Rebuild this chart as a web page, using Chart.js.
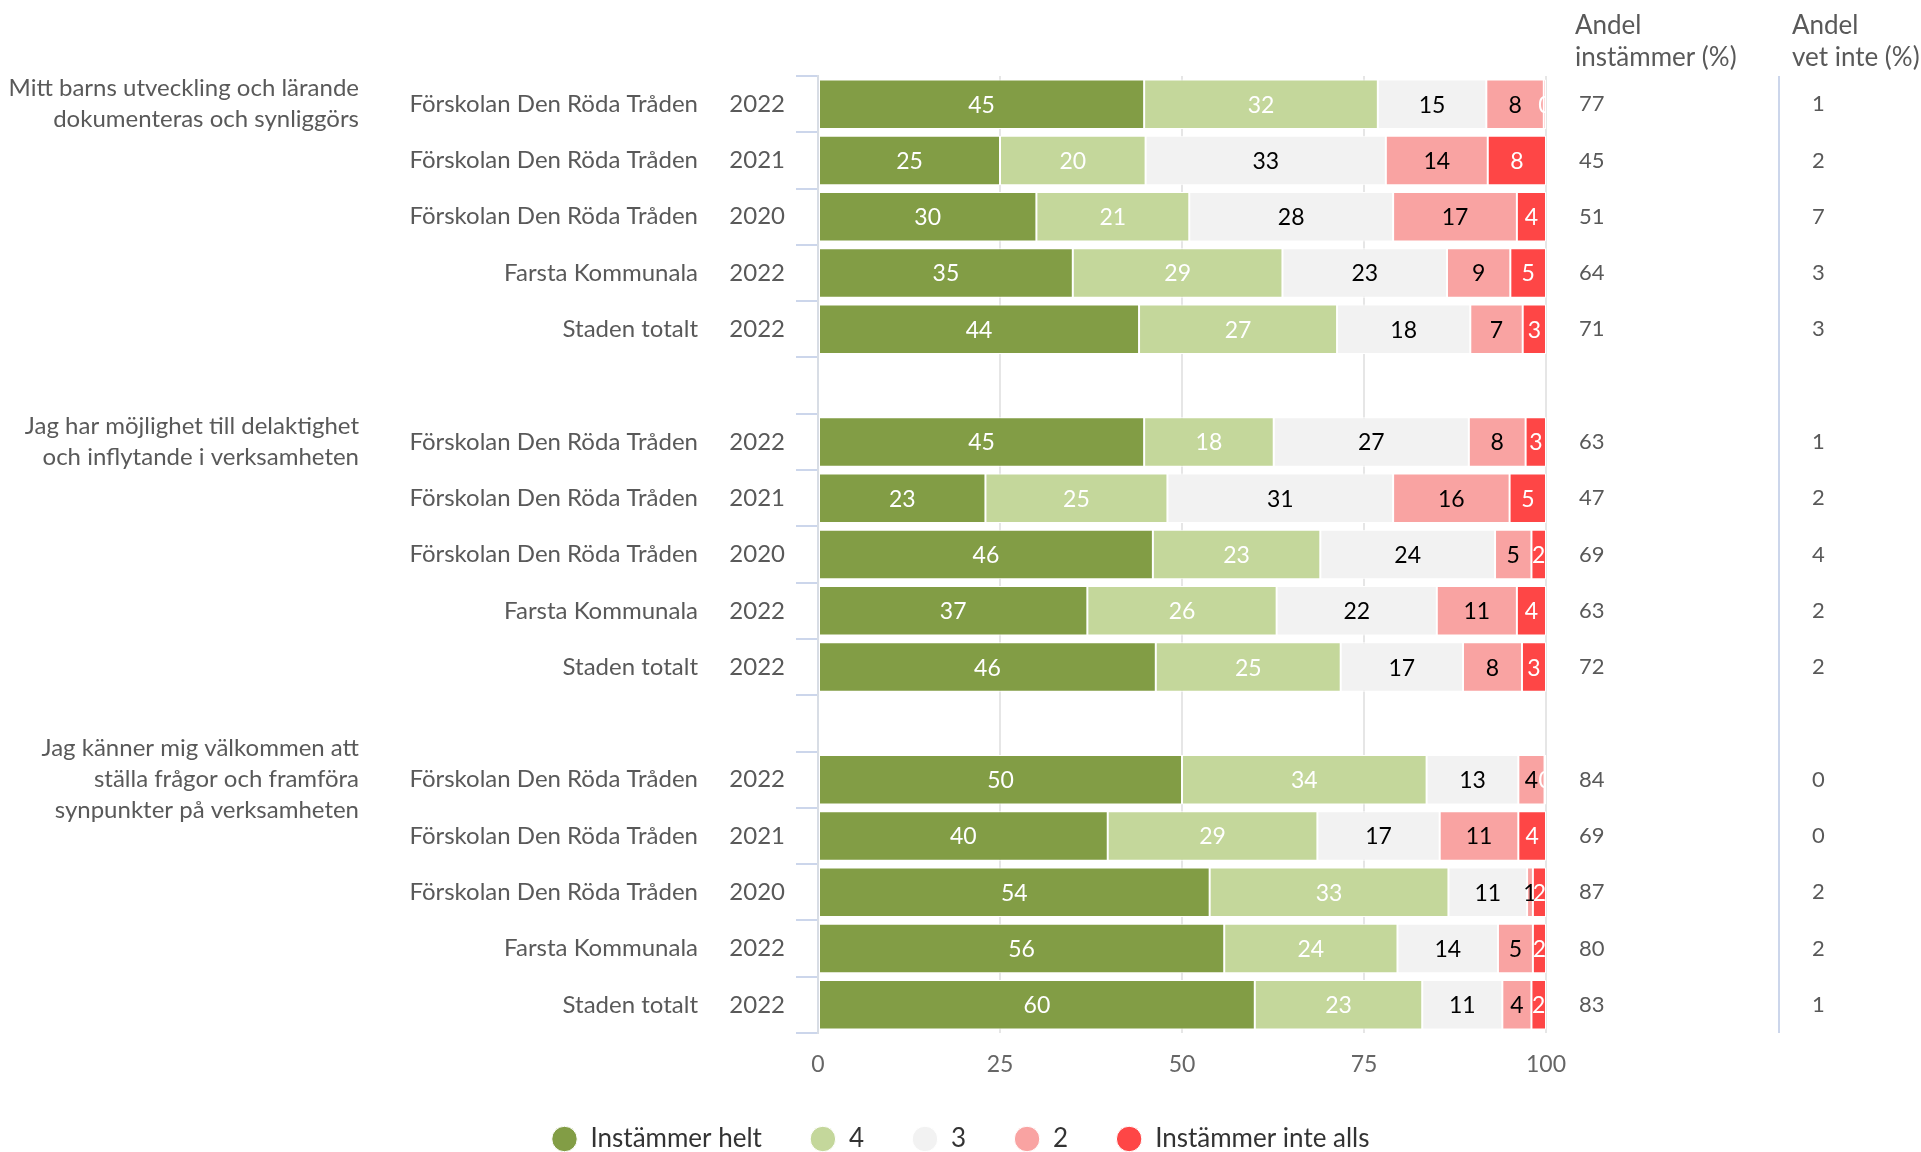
<!DOCTYPE html>
<html>
<head>
<meta charset="utf-8">
<script src="https://cdn.jsdelivr.net/npm/chart.js@4/dist/chart.umd.min.js"></script>
<style>
html, body { margin: 0; padding: 0; background: #fff; }
#wrap { width: 1921px; height: 1152px; position: relative; }
</style>
</head>
<body>
<div id="wrap"><canvas id="barChart"></canvas></div>
<script>
// rows: three questions, five rows each, an empty row between the groups
var rowNames = [
    'Förskolan Den Röda Tråden', 'Förskolan Den Röda Tråden', 'Förskolan Den Röda Tråden', 'Farsta Kommunala', 'Staden totalt', '',
    'Förskolan Den Röda Tråden', 'Förskolan Den Röda Tråden', 'Förskolan Den Röda Tråden', 'Farsta Kommunala', 'Staden totalt', '',
    'Förskolan Den Röda Tråden', 'Förskolan Den Röda Tråden', 'Förskolan Den Röda Tråden', 'Farsta Kommunala', 'Staden totalt'
];
var rowYears = [
    '2022', '2021', '2020', '2022', '2022', '',
    '2022', '2021', '2020', '2022', '2022', '',
    '2022', '2021', '2020', '2022', '2022'
];
var groupLabels = [
    ['Mitt barns utveckling och lärande', 'dokumenteras och synliggörs'],
    ['Jag har möjlighet till delaktighet', 'och inflytande i verksamheten'],
    ['Jag känner mig välkommen att', 'ställa frågor och framföra', 'synpunkter på verksamheten']
];
var groupStart = [0, 6, 12];

var seriesNames = ['Instämmer helt', '4', '3', '2', 'Instämmer inte alls'];
var seriesColors = ['#829d45', '#c4d79b', '#f2f2f2', '#f9a3a2', '#fe4646'];
var labelColors = ['#ffffff', '#ffffff', '#000000', '#000000', '#ffffff'];

var instHelt  = [44.8, 25, 30, 35.0, 44.1, null, 44.8, 23, 46, 37, 46.4, null, 50.0, 39.8, 53.8, 55.8, 60];
var four      = [32.1, 20, 21, 28.8, 27.2, null, 17.8, 25, 23, 26, 25.4, null, 33.6, 28.8, 32.8, 23.8, 23];
var three     = [14.9, 33, 28, 22.6, 18.3, null, 26.8, 31, 24, 22, 16.8, null, 12.6, 16.8, 10.8, 13.8, 11];
var two       = [7.9, 14, 17, 8.7, 7.2, null, 7.8, 16, 5, 11, 8.1, null, 3.6, 10.8, 0.8, 4.8, 4];
var inteAlls  = [0.3, 8, 4, 4.9, 3.2, null, 2.8, 5, 2, 4, 3.3, null, 0.2, 3.8, 1.8, 1.8, 2];

var shareAgree    = [77, 45, 51, 64, 71, null, 63, 47, 69, 63, 72, null, 84, 69, 87, 80, 83];
var shareDontKnow = [1, 2, 7, 3, 3, null, 1, 2, 4, 2, 2, null, 0, 0, 2, 2, 1];

var xTicks = [0, 25, 50, 75, 100];

Chart.defaults.font.family = 'Lato';
Chart.defaults.color = '#595959';

var seriesData = [instHelt, four, three, two, inteAlls];
var datasets = seriesData.map(function(d, i) {
    return {
        label: seriesNames[i],
        data: d,
        backgroundColor: seriesColors[i],
        borderColor: '#ffffff',
        borderWidth: 1,
        borderSkipped: false,
        pointStyle: 'circle',
        barPercentage: 0.88,
        categoryPercentage: 1
    };
});

var barLabels = {
    id: 'barLabels',
    afterDatasetsDraw: function(chart) {
        var ctx = chart.ctx, area = chart.chartArea;
        ctx.save();
        ctx.beginPath();
        ctx.rect(area.left, area.top, area.right - area.left, area.bottom - area.top);
        ctx.clip();
        ctx.font = '23px Lato';
        ctx.textAlign = 'center';
        ctx.textBaseline = 'middle';
        chart.data.datasets.forEach(function(ds, di) {
            var meta = chart.getDatasetMeta(di);
            meta.data.forEach(function(bar, i) {
                var v = ds.data[i];
                if (v === null) return;
                ctx.fillStyle = labelColors[di];
                ctx.fillText(Math.round(v), (bar.x + bar.base) / 2, bar.y + 1);
            });
        });
        ctx.restore();
    }
};

var sideText = {
    id: 'sideText',
    afterDraw: function(chart) {
        var ctx = chart.ctx, yScale = chart.scales.y, area = chart.chartArea;
        ctx.save();
        ctx.fillStyle = '#595959';
        ctx.textBaseline = 'middle';
        rowNames.forEach(function(name, i) {
            var py = yScale.getPixelForValue(i);
            ctx.font = '24px Lato';
            ctx.textAlign = 'right';
            ctx.fillText(name, 698, py);
            ctx.fillText(rowYears[i], 785, py);
            ctx.font = '22px Lato';
            ctx.textAlign = 'left';
            if (shareAgree[i] !== null) ctx.fillText(shareAgree[i], 1579, py);
            if (shareDontKnow[i] !== null) ctx.fillText(shareDontKnow[i], 1812, py);
        });
        ctx.font = '24px Lato';
        ctx.textAlign = 'right';
        groupLabels.forEach(function(lines, g) {
            var cy = yScale.getPixelForValue(groupStart[g]);
            var top = cy - (lines.length - 1) * 31 / 2;
            lines.forEach(function(line, k) {
                ctx.fillText(line, 359, top + k * 31);
            });
        });
        ctx.textAlign = 'left';
        ctx.font = '26px Lato';
        ctx.fillText('Andel', 1575, 26);
        ctx.fillText('instämmer (%)', 1575, 58);
        ctx.fillText('Andel', 1792, 26);
        ctx.fillText('vet inte (%)', 1792, 58);
        ctx.strokeStyle = '#ccd6eb';
        ctx.lineWidth = 2;
        ctx.beginPath();
        ctx.moveTo(1779, area.top);
        ctx.lineTo(1779, area.bottom);
        ctx.stroke();
        ctx.restore();
    }
};

var options = {
    indexAxis: 'y',
    responsive: true,
    maintainAspectRatio: false,
    animation: false,
    layout: {
        padding: { top: 76, bottom: -10, left: 0, right: 0 }
    },
    scales: {
        x: {
            stacked: true,
            min: 0,
            max: 100,
            afterBuildTicks: function(scale) {
                scale.ticks = xTicks.map(function(v) { return { value: v }; });
            },
            afterFit: function(scale) { scale.height = 45; },
            grid: { color: '#e6e6e6', lineWidth: 2, drawTicks: false },
            border: { display: false },
            ticks: { color: '#666666', font: { size: 23 }, padding: 18 }
        },
        y: {
            stacked: true,
            grid: { drawOnChartArea: false, tickLength: 22, color: '#ccd6eb', lineWidth: 2 },
            border: { display: true, color: '#d8dde5', width: 2 },
            ticks: { display: false },
            afterFit: function(scale) { scale.width = 818; }
        },
        y2: {
            type: 'linear',
            position: 'right',
            grid: { display: false },
            border: { display: false },
            ticks: { display: false },
            afterFit: function(scale) { scale.width = 375; }
        }
    },
    plugins: {
        legend: {
            position: 'bottom',
            labels: {
                usePointStyle: true,
                boxHeight: 18,
                padding: 48,
                color: '#333333',
                font: { size: 26 }
            }
        },
        tooltip: { enabled: false }
    }
};

var ctx = document.getElementById('barChart').getContext('2d');
var myChart = new Chart(ctx, {
    type: 'bar',
    data: { labels: rowNames, datasets: datasets },
    options: options,
    plugins: [barLabels, sideText]
});
</script>
</body>
</html>
